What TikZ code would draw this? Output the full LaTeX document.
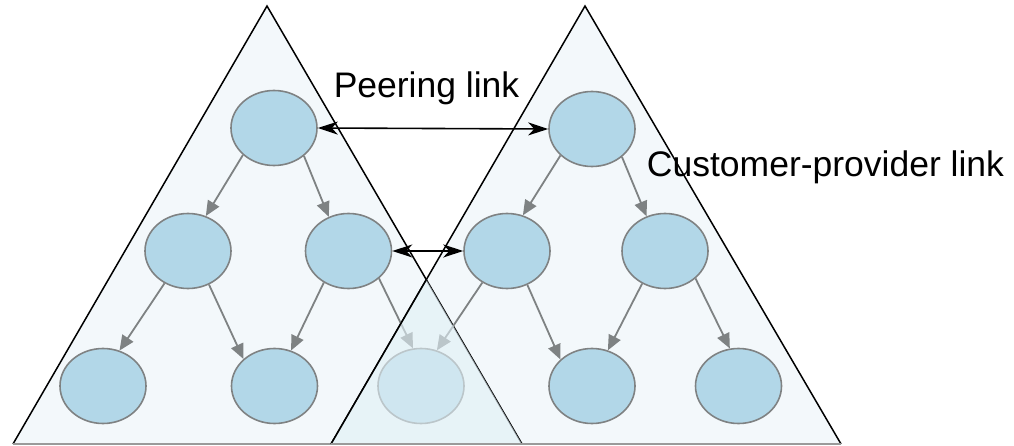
\documentclass[tikz,border=0pt]{standalone}
\usepackage{fontspec}
\setmainfont{Liberation Sans}
\usetikzlibrary{shapes.geometric,arrows.meta}
\definecolor{trifill}{HTML}{F3F8FB}
\definecolor{nodefill}{HTML}{B2D7E8}
\definecolor{nodeline}{HTML}{7F8283}
\definecolor{edgec}{HTML}{7E8283}
\definecolor{overlayc}{RGB}{225,240,246}
\definecolor{basec}{HTML}{9A9A9A}
\tikzset{
  asnode/.style={ellipse, draw=nodeline, line width=1.6pt, fill=nodefill,
    minimum width=86pt, minimum height=75pt, inner sep=0pt},
  cp/.style={draw=edgec, line width=1.8pt, -{Triangle[length=15pt,width=13pt]}},
  peer/.style={draw=black, line width=1.6pt,
    {Stealth[length=20pt,width=13pt,inset=6pt]}-{Stealth[length=20pt,width=13pt,inset=6pt]}},
  triline/.style={draw=black, line width=1.5pt, line join=miter},
  lbl/.style={font=\fontsize{35.5}{40}\selectfont, inner sep=0pt, anchor=base},
}
\begin{document}
\begin{tikzpicture}[x=1pt,y=-1pt]
\useasboundingbox (0,0) rectangle (1014,446);
% triangle corners
\coordinate (LA) at (267,6);
\coordinate (LL) at (13,444);
\coordinate (LR) at (522,444);
\coordinate (RA) at (585,6);
\coordinate (RL) at (331,444);
\coordinate (RR) at (841,444);
\coordinate (X) at (intersection of LA--LR and RA--RL);
% fills
\fill[trifill] (LA) -- (LL) -- (LR) -- cycle;
\fill[trifill] (RA) -- (RL) -- (RR) -- cycle;
% outlines
\draw[triline] (LL) -- (LA) -- (LR);
\draw[triline] (RL) -- (RA) -- (RR);
\draw[basec, line width=1.2pt] (LL) -- (RR);
% nodes
\node[asnode] (T1) at (274,128) {};
\node[asnode] (M1) at (188,251) {};
\node[asnode] (M2) at (348.5,251) {};
\node[asnode] (B1) at (103,386) {};
\node[asnode] (B2) at (274.5,386) {};
\node[asnode] (B3) at (421,386) {};
\node[asnode] (T2) at (592,129) {};
\node[asnode] (M3) at (507,251) {};
\node[asnode] (M4) at (665,251) {};
\node[asnode] (B4) at (592,386) {};
\node[asnode] (B5) at (738.5,386) {};
% customer-provider links
\draw[cp] (T1.-139) -- (M1.63);
\draw[cp] (T1.-43) -- (M2.120);
\draw[cp] (M1.-126) -- (B1.65);
\draw[cp] (M1.-58) -- (B2.139);
\draw[cp] (M2.-128) -- (B2.65);
\draw[cp] (M2.-42) -- (B3.102);
\draw[cp] (M3.-128) -- (B3.66);
\draw[cp] (M3.-59) -- (B4.140);
\draw[cp] (M4.-125) -- (B4.66);
\draw[cp] (M4.-42) -- (B5.103);
\draw[cp] (T2.-140) -- (M3.66);
\draw[cp] (T2.-43) -- (M4.118);
% peering links
\draw[peer] (T1.east) -- (T2.west);
\draw[peer] (M2.east) -- (M3.west);
% overlap shading
\fill[overlayc, fill opacity=0.62] (X) -- (RL) -- (LR) -- cycle;
\draw[triline] (X) -- (RL);
\draw[basec, line width=1.2pt] (RL) -- (LR);
% labels
\node[lbl] (pl) at (426.5,97.3) {Peering link};
\node[lbl] (cl) at (825.5,176.7) {Customer-provider link};
\end{tikzpicture}
\end{document}
